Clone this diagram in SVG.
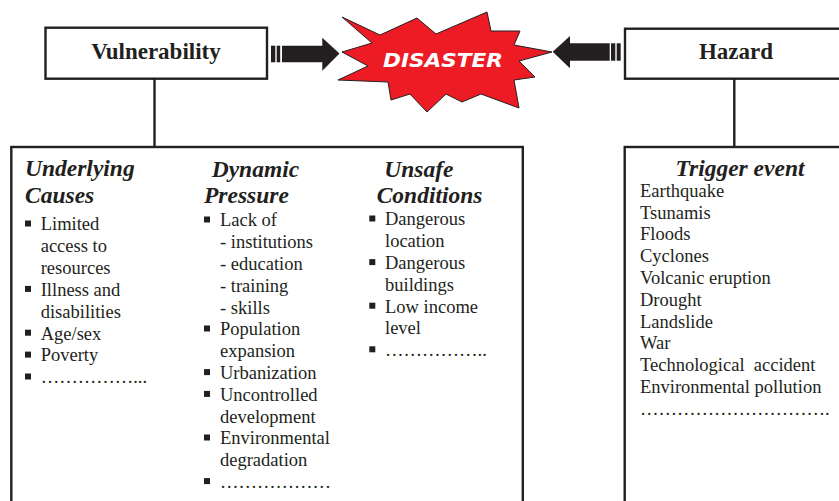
<svg xmlns="http://www.w3.org/2000/svg" width="839" height="501" viewBox="0 0 839 501">
<style>
.box{fill:#fff;stroke:#231f20;stroke-width:2.4}
.ln{stroke:#231f20;stroke-width:2.4;fill:none}
.ttl{font-family:"Liberation Serif","Times New Roman",serif;font-weight:bold;font-size:23px;fill:#231f20}
.hd{font-family:"Liberation Serif","Times New Roman",serif;font-weight:bold;font-style:italic;font-size:23.5px;fill:#231f20}
.tx{font-family:"Liberation Serif","Times New Roman",serif;font-size:18.5px;fill:#231f20}
.bul{fill:#231f20}
.arr{fill:#231f20}
</style>
<rect width="839" height="501" fill="#fff"/>
<g id="connectors">
<line class="ln" x1="154.5" y1="79" x2="154.5" y2="147"/>
<line class="ln" x1="734.3" y1="79" x2="734.3" y2="147"/>
<g id="arrow-left">
<rect class="arr" x="271" y="45.7" width="4.3" height="16.6"/>
<rect class="arr" x="276.7" y="45.7" width="3.5" height="16.6"/>
<polygon class="arr" points="282,45.7 322.3,45.7 322.3,37.7 339.5,53.5 322.3,70.7 322.3,62.3 282,62.3"/>
</g>
<g id="arrow-right">
<rect class="arr" x="611" y="43.3" width="4.3" height="17.4"/>
<rect class="arr" x="616.7" y="43.3" width="4" height="17.4"/>
<polygon class="arr" points="609.7,43.3 570,43.3 570,36 552.7,51.7 570,68.3 570,60.7 609.7,60.7"/>
</g>
</g>
<g id="vulnerability">
<rect class="box" x="45.5" y="27.7" width="221.5" height="51"/>
<text class="ttl" x="156" y="58.5" text-anchor="middle">Vulnerability</text>
</g>
<g id="disaster">
<polygon points="342,17 380,35 417,18 436,34 487,12 491,31 520,31 514,45 552,52 519,61 535,77 514,80 519,108 481,94 462,102 446,94 427,112 410,94 391,100 388,82 338,80 368,66 342,52 372,43" fill="#ed1c24" stroke="#231f20" stroke-width="1"/>
<text x="443" y="66.5" text-anchor="middle" font-family="'DejaVu Sans',Verdana,sans-serif" font-weight="bold" font-style="italic" font-size="19" fill="#fff" textLength="120" lengthAdjust="spacingAndGlyphs">DISASTER</text>
</g>
<g id="hazard">
<rect class="box" x="625" y="28.7" width="230" height="50"/>
<text class="ttl" x="736" y="58.5" text-anchor="middle">Hazard</text>
</g>
<g id="vulnerability-details">
<rect class="box" x="11.3" y="147" width="511.5" height="370"/>
<text class="hd" x="25" y="176">Underlying</text>
<text class="hd" x="25" y="203.3">Causes</text>
<rect class="bul" x="25" y="220.5" width="6" height="6"/>
<text class="tx" x="40.7" y="230">Limited</text>
<text class="tx" x="40.7" y="251.9">access to</text>
<text class="tx" x="40.7" y="273.8">resources</text>
<rect class="bul" x="25" y="285.9" width="6" height="6"/>
<text class="tx" x="40.7" y="295.7">Illness and</text>
<text class="tx" x="40.7" y="317.6">disabilities</text>
<rect class="bul" x="25" y="329.7" width="6" height="6"/>
<text class="tx" x="40.7" y="339.5">Age/sex</text>
<rect class="bul" x="25" y="351.6" width="6" height="6"/>
<text class="tx" x="40.7" y="361.4">Poverty</text>
<rect class="bul" x="25" y="373.5" width="6" height="6"/>
<text class="tx" x="40.7" y="383.3">……………...</text>

<text class="hd" x="211.7" y="176.7">Dynamic</text>
<text class="hd" x="204" y="203.3">Pressure</text>
<rect class="bul" x="204" y="216.5" width="6" height="6"/>
<text class="tx" x="220" y="226.3">Lack of</text>
<text class="tx" x="220" y="248.1">- institutions</text>
<text class="tx" x="220" y="269.9">- education</text>
<text class="tx" x="220" y="291.7">- training</text>
<text class="tx" x="220" y="313.5">- skills</text>
<rect class="bul" x="204" y="325.5" width="6" height="6"/>
<text class="tx" x="220" y="335.3">Population</text>
<text class="tx" x="220" y="357.1">expansion</text>
<rect class="bul" x="204" y="369.1" width="6" height="6"/>
<text class="tx" x="220" y="378.9">Urbanization</text>
<rect class="bul" x="204" y="390.9" width="6" height="6"/>
<text class="tx" x="220" y="400.7">Uncontrolled</text>
<text class="tx" x="220" y="422.5">development</text>
<rect class="bul" x="204" y="434.5" width="6" height="6"/>
<text class="tx" x="220" y="444.3">Environmental</text>
<text class="tx" x="220" y="466.1">degradation</text>
<rect class="bul" x="204" y="478.1" width="6" height="6"/>
<text class="tx" x="220" y="487.9">………………</text>

<text class="hd" x="384.3" y="176.7">Unsafe</text>
<text class="hd" x="376.7" y="203.3">Conditions</text>
<rect class="bul" x="369.3" y="215.5" width="6" height="6"/>
<text class="tx" x="385" y="225.3">Dangerous</text>
<text class="tx" x="385" y="247.1">location</text>
<rect class="bul" x="369.3" y="259.1" width="6" height="6"/>
<text class="tx" x="385" y="268.9">Dangerous</text>
<text class="tx" x="385" y="290.7">buildings</text>
<rect class="bul" x="369.3" y="302.7" width="6" height="6"/>
<text class="tx" x="385" y="312.5">Low income</text>
<text class="tx" x="385" y="334.3">level</text>
<rect class="bul" x="369.3" y="346.3" width="6" height="6"/>
<text class="tx" x="385" y="356.1">……………..</text>
</g>
<g id="hazard-details">
<rect class="box" x="624.7" y="147" width="230" height="370"/>
<text class="hd" x="740" y="176" text-anchor="middle">Trigger event</text>
<text class="tx" x="640" y="196.7">Earthquake</text>
<text class="tx" x="640" y="218.5">Tsunamis</text>
<text class="tx" x="640" y="240.3">Floods</text>
<text class="tx" x="640" y="262.1">Cyclones</text>
<text class="tx" x="640" y="283.9">Volcanic eruption</text>
<text class="tx" x="640" y="305.7">Drought</text>
<text class="tx" x="640" y="327.5">Landslide</text>
<text class="tx" x="640" y="349.3">War</text>
<text class="tx" x="640" y="371.1">Technological&#160; accident</text>
<text class="tx" x="640" y="392.9">Environmental pollution</text>
<text class="tx" x="640" y="415">&#8230;&#8230;&#8230;&#8230;&#8230;&#8230;&#8230;&#8230;&#8230;&#8230;.</text>
</g>
</svg>
